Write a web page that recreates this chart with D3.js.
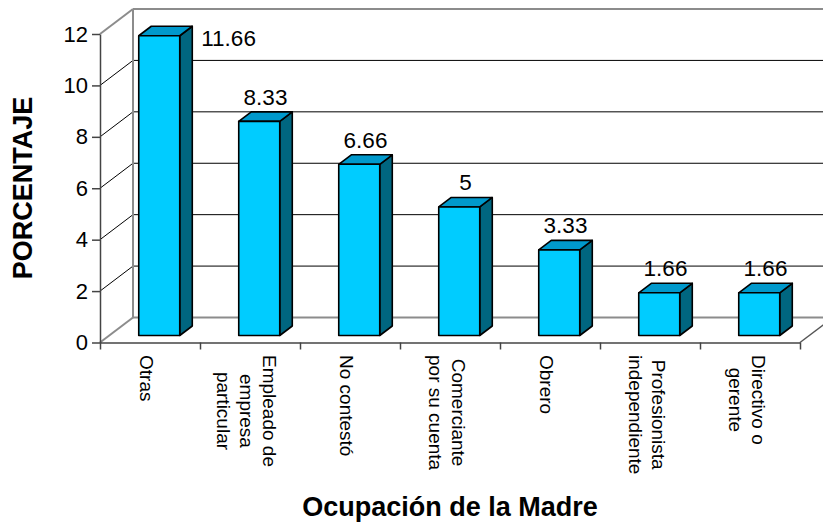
<!DOCTYPE html>
<html>
<head>
<meta charset="utf-8">
<script src="https://cdn.jsdelivr.net/npm/d3@7"></script>
<style>
  body { margin: 0; background: #fff; }
  svg { display: block; font-family: "Liberation Sans", Arial, sans-serif; }
</style>
</head>
<body>
<div id="chart"></div>
<script>
const SVG_WIDTH = 823;
const SVG_HEIGHT = 523;
const MARGIN = { top: 34, left: 100, bottom: 342.5, right: 800 };
const DEPTH = { dx: 33, dy: -25 };
const BAR_Z = [0.28, 0.66];

const categories = [
    ["Otras"],
    ["Empleado de", "empresa", "particular"],
    ["No contestó"],
    ["Comerciante", "por su cuenta"],
    ["Obrero"],
    ["Profesionista", "independiente"],
    ["Directivo o", "gerente"]
];
const values = [11.66, 8.33, 6.66, 5, 3.33, 1.66, 1.66];
const valueLabels = ["11.66", "8.33", "6.66", "5", "3.33", "1.66", "1.66"];
const yTicks = [0, 2, 4, 6, 8, 10, 12];

const svg = d3.select("#chart").append("svg")
    .attr("width", SVG_WIDTH)
    .attr("height", SVG_HEIGHT);

const keys = d3.range(categories.length);

const x = d3.scaleBand()
    .domain(keys)
    .range([MARGIN.left, MARGIN.right])
    .paddingInner(0.59)
    .paddingOuter(0.295);

const xEdges = d3.scaleLinear()
    .domain([0, categories.length])
    .range([MARGIN.left, MARGIN.right]);

const y = d3.scaleLinear()
    .domain([0, 12])
    .range([MARGIN.bottom, MARGIN.top]);

// project a front-plane point back by depth z (0..1)
const proj = (px, py, z) => [px + z * DEPTH.dx, py + z * DEPTH.dy];
const pts = arr => arr.map(p => p.join(",")).join(" ");

// walls and floor
const walls = svg.append("g");
const backRight = MARGIN.right + DEPTH.dx + 40;

yTicks.filter(v => v > 0 && v < 12).forEach(v => {
    const [bx, by] = proj(MARGIN.left, y(v), 1);
    walls.append("line")
        .attr("x1", bx).attr("y1", by).attr("x2", backRight).attr("y2", by)
        .attr("stroke", "#000").attr("stroke-width", 1);
    walls.append("line")
        .attr("x1", MARGIN.left).attr("y1", y(v)).attr("x2", bx).attr("y2", by)
        .attr("stroke", "#000").attr("stroke-width", 1);
});

const gray = "#8c8c8c";
const [tx, ty] = proj(MARGIN.left, y(12), 1);
const [fx, fy] = proj(MARGIN.left, y(0), 1);
walls.append("line").attr("x1", tx).attr("y1", ty).attr("x2", backRight).attr("y2", ty)
    .attr("stroke", gray).attr("stroke-width", 2);
walls.append("line").attr("x1", MARGIN.left).attr("y1", y(12)).attr("x2", tx).attr("y2", ty)
    .attr("stroke", gray).attr("stroke-width", 2);
walls.append("line").attr("x1", tx).attr("y1", ty).attr("x2", fx).attr("y2", fy)
    .attr("stroke", gray).attr("stroke-width", 2);
walls.append("line").attr("x1", fx).attr("y1", fy).attr("x2", backRight).attr("y2", fy)
    .attr("stroke", gray).attr("stroke-width", 2);
walls.append("line").attr("x1", MARGIN.left).attr("y1", y(0)).attr("x2", fx).attr("y2", fy)
    .attr("stroke", gray).attr("stroke-width", 2);
const [rx, ry] = proj(MARGIN.right, y(0), 1);
walls.append("line").attr("x1", MARGIN.right).attr("y1", y(0)).attr("x2", rx).attr("y2", ry)
    .attr("stroke", "#555").attr("stroke-width", 1.5);

// bars
const bars = svg.append("g")
    .selectAll("g")
    .data(keys)
    .join("g");

const barGeom = i => {
    const x0 = x(i), x1 = x(i) + x.bandwidth();
    const yt = y(values[i]), yb = y(0);
    const [z0, z1] = BAR_Z;
    return { x0, x1, yt, yb, z0, z1 };
};

bars.append("polygon")
    .attr("points", i => {
        const g = barGeom(i);
        return pts([proj(g.x1, g.yb, g.z0), proj(g.x1, g.yb, g.z1), proj(g.x1, g.yt, g.z1), proj(g.x1, g.yt, g.z0)]);
    })
    .attr("fill", "#006680").attr("stroke", "#000").attr("stroke-width", 1.6)
    .attr("stroke-linejoin", "round");

bars.append("polygon")
    .attr("points", i => {
        const g = barGeom(i);
        return pts([proj(g.x0, g.yt, g.z0), proj(g.x1, g.yt, g.z0), proj(g.x1, g.yt, g.z1), proj(g.x0, g.yt, g.z1)]);
    })
    .attr("fill", "#0099cc").attr("stroke", "#000").attr("stroke-width", 1.6)
    .attr("stroke-linejoin", "round");

bars.append("polygon")
    .attr("points", i => {
        const g = barGeom(i);
        return pts([proj(g.x0, g.yb, g.z0), proj(g.x1, g.yb, g.z0), proj(g.x1, g.yt, g.z0), proj(g.x0, g.yt, g.z0)]);
    })
    .attr("fill", "#00ccff").attr("stroke", "#000").attr("stroke-width", 1.6)
    .attr("stroke-linejoin", "round");

// value labels
bars.append("text")
    .attr("font-size", 22.5)
    .attr("fill", "#000")
    .attr("text-anchor", i => i === 0 ? "start" : "middle")
    .attr("x", i => {
        const g = barGeom(i);
        if (i === 0) return proj(g.x1, 0, g.z1)[0] + 9;
        return proj((g.x0 + g.x1) / 2, 0, (g.z0 + g.z1) / 2)[0];
    })
    .attr("y", i => {
        const g = barGeom(i);
        if (i === 0) return proj(0, g.yt, g.z0)[1] + 10;
        return proj(0, g.yt, g.z1)[1] - 7;
    })
    .text(i => valueLabels[i]);

// axes
const yAxis = svg.append("g")
    .attr("transform", `translate(${MARGIN.left},0)`)
    .call(d3.axisLeft(y).tickValues(yTicks).tickSize(8).tickPadding(4).tickSizeOuter(0));
yAxis.select(".domain").attr("stroke", "#444").attr("stroke-width", 1.5);
yAxis.selectAll(".tick line").attr("stroke", "#444").attr("stroke-width", 1.5);
yAxis.selectAll(".tick text").attr("font-size", 22).attr("fill", "#000")
    .attr("font-family", "Liberation Sans, Arial, sans-serif");

const xAxis = svg.append("g")
    .attr("transform", `translate(0,${y(0)})`)
    .call(d3.axisBottom(xEdges).tickValues(d3.range(categories.length + 1)).tickSize(7).tickFormat("").tickSizeOuter(0));
xAxis.select(".domain").attr("stroke", "#444").attr("stroke-width", 1.5);
xAxis.selectAll(".tick line").attr("stroke", "#444").attr("stroke-width", 1.5);

// category labels (rotated, top aligned, lines centred)
const LINE_H = 23;
categories.forEach((lines, i) => {
    const cx = xEdges(i + 0.5) - 3.5;
    const g = svg.append("g")
        .attr("transform", `translate(${cx},355) rotate(90)`);
    const texts = lines.map((t, j) => g.append("text")
        .attr("font-size", 19)
        .attr("dominant-baseline", "central")
        .attr("text-anchor", "middle")
        .attr("y", (j - (lines.length - 1) / 2) * LINE_H)
        .text(t));
    const w = d3.max(texts, t => t.node().getComputedTextLength());
    texts.forEach(t => t.attr("x", w / 2));
});

// titles
svg.append("text")
    .attr("transform", "translate(32,188) rotate(-90)")
    .attr("text-anchor", "middle")
    .attr("font-size", 27)
    .attr("font-weight", "bold")
    .text("PORCENTAJE");

svg.append("text")
    .attr("x", 450)
    .attr("y", 516)
    .attr("text-anchor", "middle")
    .attr("font-size", 27)
    .attr("font-weight", "bold")
    .text("Ocupación de la Madre");
</script>
</body>
</html>
